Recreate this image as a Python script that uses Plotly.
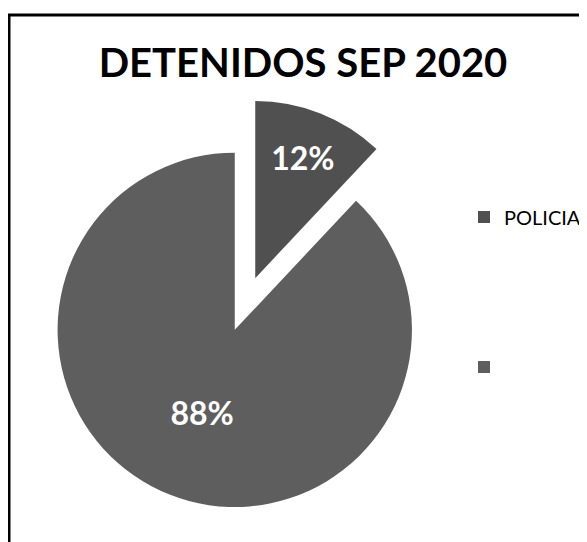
import plotly.graph_objects as go

# Data
labels = ["POLICIA", " "]
values = [12, 88]
colors = ["#505050", "#5e5e5e"]
pulls = [0.157, 0.157]
title_text = "DETENIDOS SEP 2020"

W, H = 587, 542
OFF = 8  # page body margin: paper pixel p shows at screen p + 8


def px(x):
    return (x - OFF) / W


def py(y):
    return 1 - (y - OFF) / H


fig = go.Figure()

fig.add_trace(go.Pie(
    labels=labels,
    values=values,
    sort=False,
    direction="clockwise",
    rotation=0,
    pull=pulls,
    marker=dict(colors=colors, line=dict(width=0)),
    textinfo="percent",
    textposition="inside",
    insidetextorientation="horizontal",
    textfont=dict(family="Lato", size=32, color="white", weight="bold"),
    domain=dict(x=[px(40), px(450)], y=[py(509), py(99)]),
    showlegend=False,
    hoverinfo="label+percent",
))

# legend entries (one per label)
for i, (lab, col) in enumerate(zip(labels, colors)):
    fig.add_trace(go.Scatter(
        x=[None], y=[None], mode="markers",
        marker=dict(symbol="square", size=12, color=col),
        name=lab,
        legend="legend" if i == 0 else "legend2",
        showlegend=True,
    ))

fig.update_layout(
    width=W, height=H,
    margin=dict(l=0, r=0, t=0, b=0),
    paper_bgcolor="white",
    plot_bgcolor="white",
    xaxis=dict(visible=False),
    yaxis=dict(visible=False),
    title=dict(
        text=title_text,
        x=px(303), xanchor="center",
        y=py(63), yanchor="middle",
        font=dict(family="Lato", size=40, color="black", weight="bold"),
    ),
    legend=dict(
        x=px(464), xanchor="left", y=py(217), yanchor="middle",
        font=dict(family="Lato", size=20, color="black"),
        bgcolor="rgba(0,0,0,0)", itemclick=False,
    ),
    legend2=dict(
        x=px(464), xanchor="left", y=py(367), yanchor="middle",
        font=dict(family="Lato", size=20, color="black"),
        bgcolor="rgba(0,0,0,0)", itemclick=False,
    ),
    shapes=[dict(
        type="rect", xref="paper", yref="paper",
        x0=px(9), x1=1.05, y0=-0.05, y1=py(15),
        line=dict(color="black", width=3),
        fillcolor="rgba(0,0,0,0)", layer="below",
    )],
)

fig.write_html("out.html")
